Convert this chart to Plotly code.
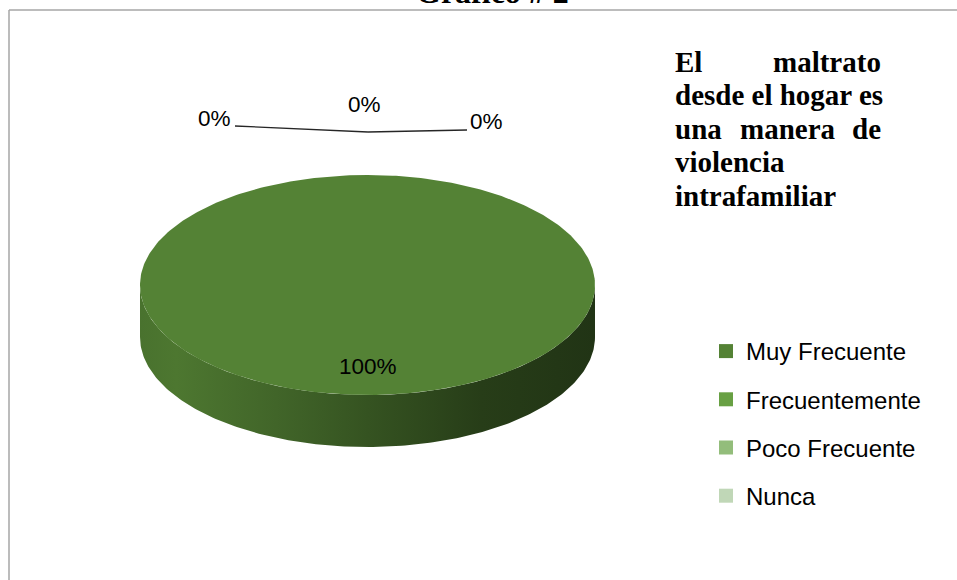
import numpy as np
import plotly.graph_objects as go

# ---------------- data ----------------
categories = ["Muy Frecuente", "Frecuentemente", "Poco Frecuente", "Nunca"]
values = [100, 0, 0, 0]          # percentages
colors = ["#548235", "#68A043", "#93BD7B", "#C0D7B7"]
chart_title = "Gráfico # 2"
question_title = "El maltrato desde el hogar es una manera de violencia intrafamiliar"

# ---------------- layout constants (pixel-like coordinates) ----------------
W, H = 957, 580
cx, cy, rx, ry, depth = 367.5, 285.0, 227.5, 110.0, 52.0
label_r = 0.74
# outside label spots for zero-size slices (Excel placed them above the pie)
outside_spots = [(364, 104), (214, 118), (486.5, 121.5)]
leader_lines = [((235, 126), (368, 132)), ((368, 132), (467, 130))]

LABEL_FONT = dict(family="Liberation Sans", size=22.5, color="#000000")
TITLE_FONT = dict(family="Liberation Serif", size=29, color="#000000")


def hex_to_rgb(h):
    h = h.lstrip("#")
    return tuple(int(h[i:i + 2], 16) for i in (0, 2, 4))


def shade(h, f):
    r, g, b = hex_to_rgb(h)
    return f"rgb({int(r * f)},{int(g * f)},{int(b * f)})"


fig = go.Figure()

total = float(sum(values))
fracs = [v / total for v in values]

# --- side walls (front half only) ---
start = 0.0
for cat, f, col in zip(categories, fracs, colors):
    th0, th1 = start * 2 * np.pi, (start + f) * 2 * np.pi
    start += f
    lo, hi = max(th0, np.pi / 2), min(th1, 3 * np.pi / 2)
    if f <= 0 or hi <= lo:
        continue
    phi = np.linspace(lo, hi, 200)
    xt = cx + rx * np.sin(phi)
    yt = cy - ry * np.cos(phi)
    xs = np.concatenate([xt, xt[::-1]])
    ys = np.concatenate([yt, (yt + depth)[::-1]])
    fig.add_trace(go.Scatter(
        x=xs, y=ys, mode="lines", fill="toself", line=dict(width=0),
        fillcolor=shade(col, 0.65),
        fillgradient=dict(type="horizontal", colorscale=[
            [0.0, shade(col, 0.88)], [0.08, shade(col, 0.92)], [0.3, shade(col, 0.78)],
            [0.5, shade(col, 0.64)], [0.75, shade(col, 0.47)], [1.0, shade(col, 0.40)]]),
        hoverinfo="skip", showlegend=False))

# --- top face ---
start = 0.0
for cat, f, col in zip(categories, fracs, colors):
    th0, th1 = start * 2 * np.pi, (start + f) * 2 * np.pi
    start += f
    if f <= 0:
        continue
    phi = np.linspace(th0, th1, 400)
    xt = cx + rx * np.sin(phi)
    yt = cy - ry * np.cos(phi)
    if f < 1:
        xt = np.concatenate([[cx], xt, [cx]])
        yt = np.concatenate([[cy], yt, [cy]])
    fig.add_trace(go.Scatter(
        x=xt, y=yt, mode="lines", fill="toself", line=dict(width=0),
        fillcolor=col, hoverinfo="skip", showlegend=False))

# --- legend entries ---
for cat, col in zip(categories, colors):
    fig.add_trace(go.Scatter(
        x=[None], y=[None], mode="markers", name=cat, legendgroup=cat,
        marker=dict(symbol="square", size=14, color=col, line=dict(width=0))))

# --- data labels ---
annotations = []
start = 0.0
spot = 0
for v, f in zip(values, fracs):
    mid = (start + f / 2) * 2 * np.pi
    start += f
    txt = f"{v:.0f}%"
    if f > 0:
        lx = cx + label_r * rx * np.sin(mid)
        ly = cy - label_r * ry * np.cos(mid)
    else:
        lx, ly = outside_spots[spot % len(outside_spots)]
        spot += 1
    annotations.append(dict(x=lx, y=ly, text=txt, showarrow=False,
                            xanchor="center", yanchor="middle", font=LABEL_FONT))

shapes = []
for (x0, y0), (x1, y1) in leader_lines:
    shapes.append(dict(type="line", x0=x0, y0=y0, x1=x1, y1=y1,
                       line=dict(color="#262626", width=1.3), layer="above"))

# frame (left and top borders)
shapes.append(dict(type="line", x0=9, y0=10, x1=9, y1=H, line=dict(color="#A6A6A6", width=1.5)))
shapes.append(dict(type="line", x0=9, y0=10, x1=W, y1=10, line=dict(color="#A6A6A6", width=1.5)))

# chart heading cut at the top (paper-referenced so it is not hidden)
annotations.append(dict(x=492.5 / W, y=1 + 7.5 / H, xref="paper", yref="paper",
                        text=f"<b>{chart_title}</b>", showarrow=False,
                        xanchor="center", yanchor="middle",
                        font=dict(family="Liberation Serif", size=32, color="#000")))

# justified question title (word placement)
words = question_title.split()
tl, tr = 673, 883
base0, lh = 71.8, 33.4
lines = [[words[0], words[1]], [" ".join(words[2:6])], [words[6], words[7], words[8]],
         [words[9]], [words[10]]]
for i, ln in enumerate(lines):
    yc = base0 + i * lh - 0.3375 * TITLE_FONT["size"]
    if len(ln) == 1:
        annotations.append(dict(x=tl, y=yc, text=f"<b>{ln[0]}</b>", showarrow=False,
                                xanchor="left", yanchor="middle", font=TITLE_FONT))
    else:
        n = len(ln)
        for j, w in enumerate(ln):
            if j == 0:
                xa, xx = "left", tl
            elif j == n - 1:
                xa, xx = "right", tr
            else:
                xa, xx = "center", 788
            annotations.append(dict(x=xx, y=yc, text=f"<b>{w}</b>", showarrow=False,
                                    xanchor=xa, yanchor="middle", font=TITLE_FONT))

fig.update_layout(
    width=W, height=H, margin=dict(l=0, r=0, t=0, b=0),
    paper_bgcolor="white", plot_bgcolor="white",
    xaxis=dict(range=[0, W], visible=False, fixedrange=True),
    yaxis=dict(range=[H, 0], visible=False, fixedrange=True),
    showlegend=True,
    legend=dict(x=706 / W, xanchor="left", y=1 - 329 / H, yanchor="top",
                font=dict(family="Liberation Sans", size=24, color="#000000"),
                tracegroupgap=14, bgcolor="rgba(0,0,0,0)", borderwidth=0),
    annotations=annotations, shapes=shapes,
)

fig.write_html("out.html", config={"displayModeBar": False},
               post_script="document.body.style.margin='0';document.body.style.overflow='hidden';")
